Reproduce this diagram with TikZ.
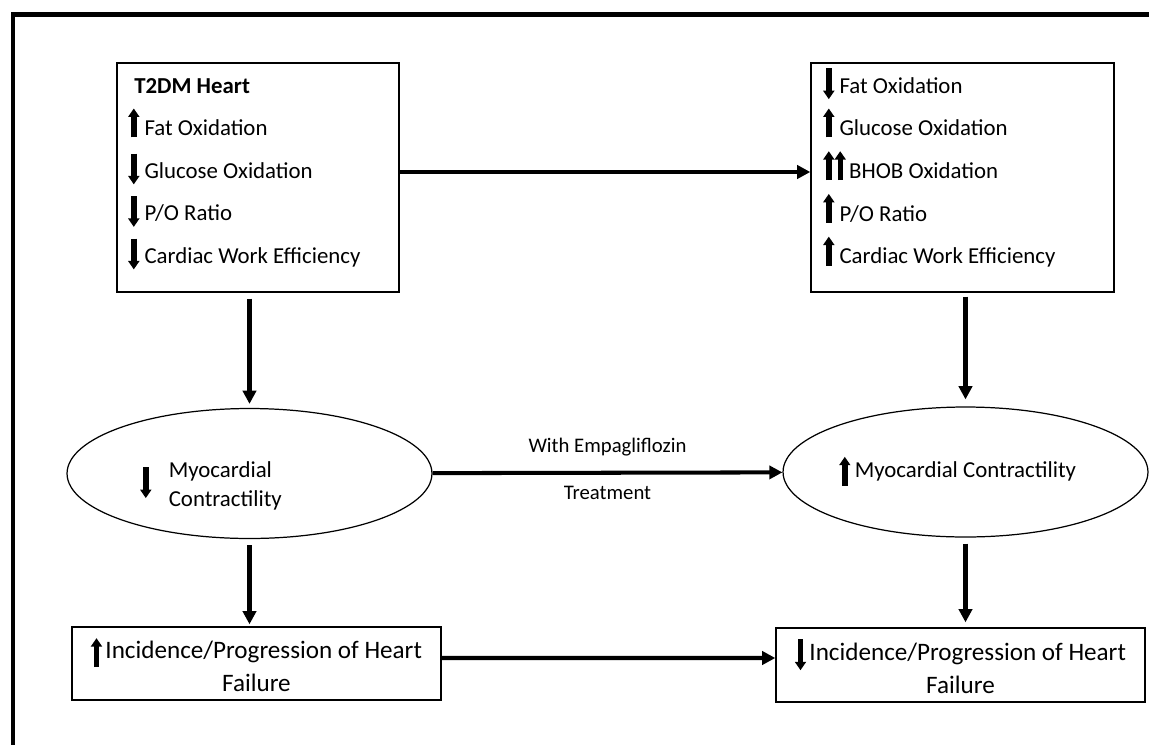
\documentclass[tikz,border=0pt]{standalone}
\usepackage{fontspec}
\setmainfont{Carlito}
\usetikzlibrary{arrows.meta,shapes.geometric}
\tikzset{inarr/.style={line width=3.1pt,-{Triangle[width=6.2pt,length=4.8pt]}}}
\newcommand{\uparr}[1][0pt]{\tikz[baseline=#1]\draw[inarr] (0,-1pt) -- (0,15.5pt);}
\newcommand{\dnarr}[1][0pt]{\tikz[baseline=#1]\draw[inarr] (0,14pt) -- (0,-3.5pt);}
\begin{document}
\begin{tikzpicture}[x=0.02cm,y=-0.02cm,
    panel/.style={draw,line width=0.8pt,inner sep=0pt},
    oval/.style={ellipse,draw,line width=0.7pt,inner sep=0pt,minimum width=7.3cm,minimum height=2.6cm},
    flow/.style={line width=2.3pt,-{Triangle[width=7.5pt,length=7.5pt]}},
    boxtxt/.style={anchor=base west,inner sep=0pt,font=\fontsize{13}{24.2}\selectfont},
    ovaltxt/.style={anchor=base west,inner sep=0pt,font=\fontsize{13}{17}\selectfont},
    hftxt/.style={align=center,font=\fontsize{14.3}{18.8}\selectfont},
    lbl/.style={inner sep=0pt,font=\fontsize{11.8}{14}\selectfont}]
  \useasboundingbox (0,0) rectangle (1149,744);
  \draw[line width=2.6pt] (13,760) -- (13,14.5) -- (1160,14.5);
  % top boxes
  \node[panel,minimum width=5.64cm,minimum height=4.58cm] (t2dm) at (258,177.5) {};
  \node[panel,minimum width=6.06cm,minimum height=4.58cm] (empa) at (962.5,177.5) {};
  \node[boxtxt] (t2dmlist) at (128,93) {\begin{tabular}[t]{@{}l@{}}
      \hspace{3.4pt}\textbf{T2DM Heart}\\
      \uparr\hspace{3pt}Fat Oxidation\\
      \dnarr\hspace{3pt}Glucose Oxidation\\
      \dnarr\hspace{3pt}P/O Ratio\\
      \dnarr\hspace{3pt}Cardiac Work Efficiency
    \end{tabular}};
  \node[boxtxt] (empalist) at (823,93) {\begin{tabular}[t]{@{}l@{}}
      \dnarr\hspace{3pt}Fat Oxidation\\
      \uparr\hspace{3pt}Glucose Oxidation\\
      \uparr\hspace{0.3pt}\uparr\hspace{2pt}BHOB Oxidation\\
      \uparr\hspace{3pt}P/O Ratio\\
      \uparr\hspace{3pt}Cardiac Work Efficiency
    \end{tabular}};
  % contractility
  \node[oval] (lmyo) at (249.5,473.5) {};
  \node[oval] (rmyo) at (965.5,472) {};
  \node[ovaltxt] (lmyotxt) at (140,477) {\dnarr[8.5pt]\hspace{10pt}\begin{tabular}[t]{@{}l@{}}Myocardial\\Contractility\end{tabular}};
  \node[ovaltxt] (rmyotxt) at (839,477) {\uparr[4pt]\hspace{2.6pt}Myocardial Contractility};
  % heart failure
  \node[panel,hftxt,minimum width=7.38cm,minimum height=1.46cm] (lhf) at (256.5,663.5) {\uparr[4pt]\hspace{2pt}Incidence/Progression of Heart\\Failure};
  \node[panel,hftxt,minimum width=7.38cm,minimum height=1.48cm] (rhf) at (960.5,665) {\dnarr[2.3pt]\hspace{2pt}Incidence/Progression of Heart\\Failure};
  % arrows
  \draw[flow] ([yshift=0.11cm]t2dm.east) -- ([yshift=0.11cm]empa.west);
  \draw[flow,shorten <=0.12cm,shorten >=0.08cm] (lmyo.north |- t2dm.south) -- (lmyo.north);
  \draw[flow,shorten <=0.08cm,shorten >=0.14cm] (rmyo.north |- empa.south) -- (rmyo.north);
  \draw[flow] (lmyo) -- (rmyo) node[lbl,midway,above=0.3cm] (withlbl) {With Empagliflozin}
    node[lbl,midway,below=0.22cm] (treatlbl) {Treatment};
  \draw[flow,shorten <=0.12cm,shorten >=0.04cm] (lmyo.south) -- (lmyo.south |- lhf.north);
  \draw[flow,shorten <=0.12cm,shorten >=0.1cm] (rmyo.south) -- (rmyo.south |- rhf.north);
  \draw[flow] ([yshift=0.11cm]lhf.east) -- ([yshift=0.14cm]rhf.west);
\end{tikzpicture}
\end{document}
